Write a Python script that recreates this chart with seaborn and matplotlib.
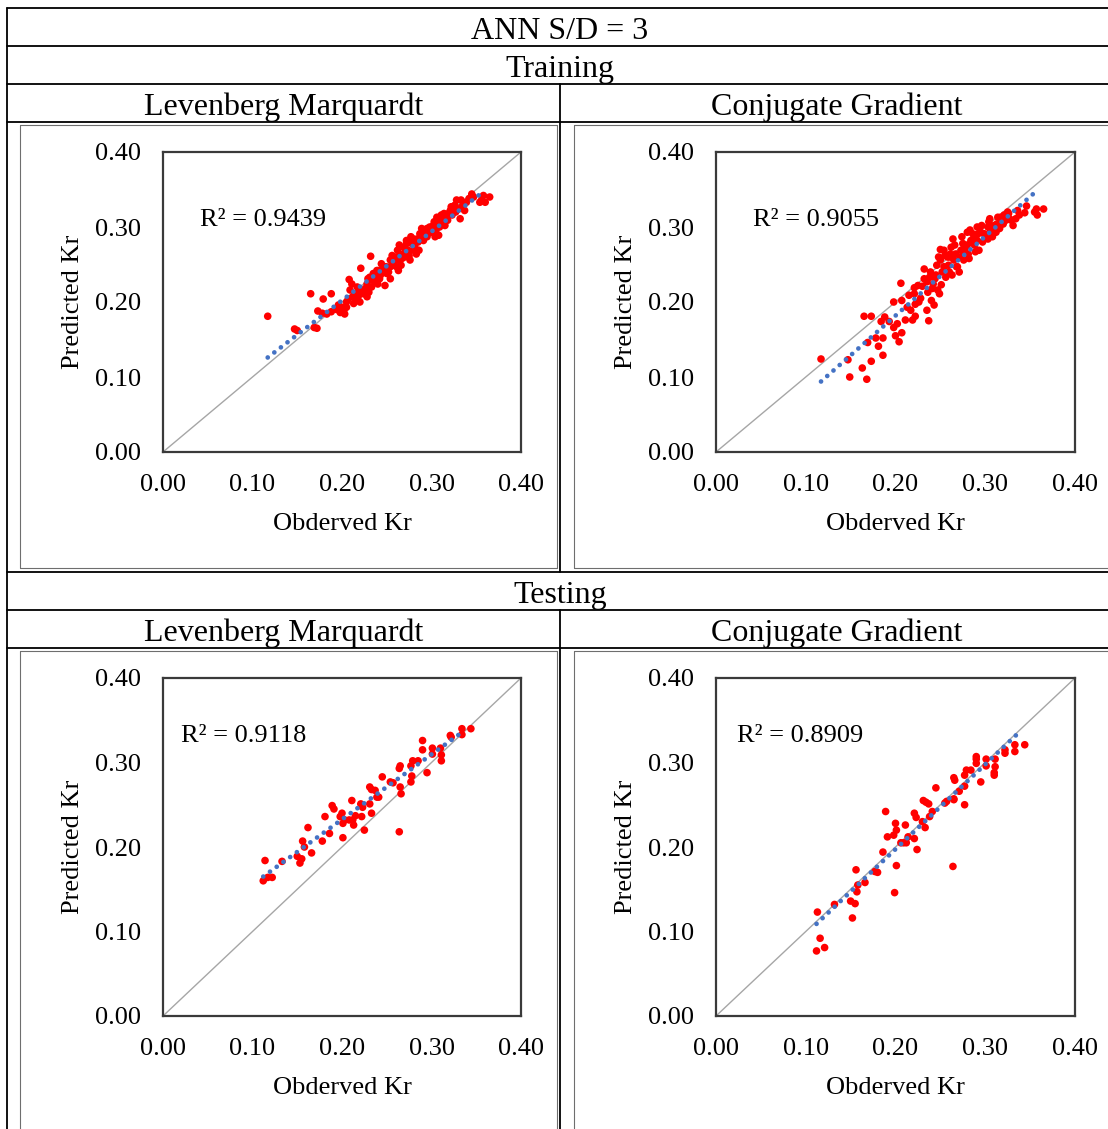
import numpy as np
import pandas as pd
import matplotlib
matplotlib.use("Agg")
import matplotlib.pyplot as plt
from matplotlib.lines import Line2D
from matplotlib.ticker import FormatStrFormatter
import seaborn as sns

sns.set_theme(style="white")
plt.rcParams["font.family"] = ["Liberation Serif", "DejaVu Serif"]
plt.rcParams["text.color"] = "black"
plt.rcParams["axes.labelcolor"] = "black"
plt.rcParams["xtick.color"] = "black"
plt.rcParams["ytick.color"] = "black"

# ---------------- data ----------------
# Training, Levenberg Marquardt
lm_train_obs = [0.117, 0.147, 0.150, 0.169, 0.172, 0.165, 0.179, 0.188, 0.173, 0.178,
                0.183, 0.188, 0.194, 0.198, 0.203, 0.200, 0.205, 0.208, 0.211, 0.209,
                0.215, 0.216, 0.220, 0.218, 0.224, 0.213, 0.221, 0.228, 0.231, 0.233,
                0.235, 0.237, 0.239, 0.232, 0.242, 0.248, 0.244, 0.250, 0.254, 0.257,
                0.259, 0.263, 0.262, 0.265, 0.269, 0.270, 0.272, 0.274, 0.276, 0.278,
                0.280, 0.282, 0.283, 0.285, 0.287, 0.289, 0.291, 0.293, 0.295, 0.298,
                0.300, 0.302, 0.304, 0.306, 0.308, 0.309, 0.311, 0.313, 0.315, 0.317,
                0.321, 0.323, 0.326, 0.328, 0.330, 0.332, 0.334, 0.336, 0.339, 0.345,
                0.347, 0.354, 0.356, 0.358, 0.360, 0.365, 0.228, 0.220, 0.205, 0.241,
                0.254, 0.263, 0.266, 0.280, 0.295, 0.308, 0.319, 0.254, 0.272, 0.229,
                0.196, 0.202, 0.207, 0.212, 0.217, 0.222, 0.226, 0.230, 0.234, 0.238,
                0.240, 0.243, 0.246, 0.249, 0.252, 0.256, 0.258, 0.261, 0.264, 0.267,
                0.271, 0.275, 0.277, 0.281, 0.284, 0.286, 0.288, 0.292, 0.296, 0.299,
                0.303, 0.305, 0.310, 0.314, 0.318, 0.322, 0.327, 0.333, 0.337, 0.342]
lm_train_pred = [0.181, 0.164, 0.162, 0.166, 0.165, 0.211, 0.204, 0.211, 0.188, 0.185,
                 0.184, 0.187, 0.190, 0.186, 0.184, 0.193, 0.200, 0.230, 0.224, 0.216,
                 0.211, 0.204, 0.216, 0.207, 0.211, 0.198, 0.245, 0.224, 0.233, 0.220,
                 0.238, 0.227, 0.242, 0.261, 0.231, 0.222, 0.251, 0.238, 0.256, 0.249,
                 0.260, 0.242, 0.269, 0.264, 0.273, 0.260, 0.282, 0.269, 0.256, 0.278,
                 0.284, 0.271, 0.264, 0.280, 0.291, 0.298, 0.282, 0.293, 0.287, 0.300,
                 0.293, 0.302, 0.287, 0.313, 0.307, 0.300, 0.316, 0.307, 0.302, 0.313,
                 0.322, 0.316, 0.329, 0.336, 0.324, 0.311, 0.327, 0.331, 0.333, 0.344,
                 0.340, 0.333, 0.336, 0.342, 0.333, 0.340, 0.207, 0.200, 0.193, 0.242,
                 0.231, 0.256, 0.249, 0.269, 0.298, 0.289, 0.318, 0.247, 0.278, 0.231,
                 0.196, 0.189, 0.204, 0.207, 0.220, 0.213, 0.218, 0.213, 0.229, 0.233,
                 0.224, 0.236, 0.244, 0.247, 0.240, 0.262, 0.253, 0.247, 0.276, 0.258,
                 0.267, 0.262, 0.287, 0.276, 0.284, 0.269, 0.287, 0.296, 0.291, 0.296,
                 0.307, 0.296, 0.311, 0.318, 0.309, 0.327, 0.320, 0.336, 0.322, 0.338]

# Training, Conjugate Gradient
cg_train_obs = [0.117, 0.149, 0.147, 0.163, 0.168, 0.173, 0.165, 0.173, 0.169, 0.178,
                0.181, 0.186, 0.186, 0.184, 0.188, 0.193, 0.198, 0.202, 0.200, 0.204,
                0.207, 0.198, 0.206, 0.207, 0.211, 0.213, 0.217, 0.219, 0.221, 0.221,
                0.222, 0.226, 0.222, 0.237, 0.235, 0.240, 0.243, 0.230, 0.232, 0.232,
                0.235, 0.238, 0.241, 0.244, 0.247, 0.249, 0.251, 0.246, 0.250, 0.250,
                0.254, 0.256, 0.258, 0.260, 0.262, 0.263, 0.265, 0.267, 0.264, 0.269,
                0.271, 0.273, 0.275, 0.276, 0.278, 0.281, 0.282, 0.284, 0.286, 0.288,
                0.290, 0.291, 0.293, 0.295, 0.297, 0.299, 0.303, 0.304, 0.306, 0.308,
                0.310, 0.312, 0.314, 0.316, 0.318, 0.321, 0.323, 0.325, 0.327, 0.331,
                0.334, 0.338, 0.344, 0.346, 0.355, 0.357, 0.358, 0.365, 0.260, 0.280,
                0.291, 0.303, 0.254, 0.215, 0.225, 0.228, 0.236, 0.239, 0.242, 0.245,
                0.248, 0.252, 0.255, 0.259, 0.261, 0.266, 0.268, 0.272, 0.274, 0.277,
                0.280, 0.283, 0.287, 0.289, 0.292, 0.296, 0.300, 0.305, 0.309, 0.313,
                0.317, 0.320, 0.326, 0.329, 0.336]
cg_train_pred = [0.124, 0.100, 0.123, 0.112, 0.097, 0.121, 0.181, 0.181, 0.146, 0.152,
                 0.141, 0.129, 0.152, 0.174, 0.180, 0.174, 0.166, 0.171, 0.155, 0.147,
                 0.159, 0.200, 0.225, 0.202, 0.176, 0.193, 0.189, 0.176, 0.219, 0.211,
                 0.197, 0.200, 0.181, 0.175, 0.189, 0.202, 0.196, 0.221, 0.231, 0.244,
                 0.227, 0.233, 0.218, 0.231, 0.216, 0.211, 0.223, 0.249, 0.256, 0.270,
                 0.247, 0.233, 0.260, 0.240, 0.273, 0.236, 0.256, 0.264, 0.284, 0.247,
                 0.240, 0.269, 0.278, 0.256, 0.273, 0.264, 0.258, 0.282, 0.291, 0.276,
                 0.289, 0.300, 0.269, 0.293, 0.280, 0.291, 0.284, 0.307, 0.296, 0.287,
                 0.302, 0.293, 0.313, 0.298, 0.304, 0.316, 0.309, 0.320, 0.311, 0.302,
                 0.311, 0.316, 0.319, 0.328, 0.320, 0.324, 0.316, 0.324, 0.260, 0.293,
                 0.282, 0.300, 0.269, 0.209, 0.222, 0.205, 0.213, 0.240, 0.224, 0.236,
                 0.260, 0.240, 0.262, 0.249, 0.264, 0.276, 0.247, 0.260, 0.287, 0.267,
                 0.276, 0.296, 0.284, 0.267, 0.291, 0.302, 0.287, 0.311, 0.293, 0.304,
                 0.313, 0.304, 0.318, 0.309, 0.322]

# Testing, Levenberg Marquardt
lm_test_obs = [0.112, 0.114, 0.117, 0.122, 0.133, 0.150, 0.153, 0.155, 0.156, 0.158,
               0.162, 0.166, 0.178, 0.181, 0.186, 0.189, 0.191, 0.198, 0.200, 0.201,
               0.201, 0.203, 0.208, 0.211, 0.212, 0.213, 0.215, 0.221, 0.222, 0.223,
               0.225, 0.231, 0.233, 0.231, 0.233, 0.237, 0.239, 0.241, 0.245, 0.254,
               0.257, 0.264, 0.265, 0.265, 0.266, 0.264, 0.277, 0.279, 0.278, 0.277,
               0.285, 0.290, 0.290, 0.295, 0.301, 0.301, 0.310, 0.311, 0.311, 0.321,
               0.322, 0.334, 0.344, 0.334]
lm_test_pred = [0.160, 0.184, 0.164, 0.164, 0.183, 0.189, 0.181, 0.186, 0.207, 0.200,
                0.223, 0.193, 0.207, 0.236, 0.216, 0.249, 0.245, 0.236, 0.240, 0.228,
                0.211, 0.232, 0.232, 0.255, 0.232, 0.226, 0.237, 0.251, 0.236, 0.247,
                0.220, 0.251, 0.240, 0.271, 0.268, 0.267, 0.259, 0.259, 0.283, 0.277,
                0.276, 0.293, 0.296, 0.271, 0.263, 0.218, 0.296, 0.302, 0.284, 0.277,
                0.302, 0.326, 0.315, 0.288, 0.317, 0.310, 0.317, 0.309, 0.302, 0.332,
                0.330, 0.340, 0.340, 0.333]

# Testing, Conjugate Gradient
cg_test_obs = [0.112, 0.116, 0.121, 0.113, 0.132, 0.150, 0.152, 0.155, 0.157, 0.158,
               0.156, 0.166, 0.177, 0.180, 0.186, 0.191, 0.189, 0.198, 0.199, 0.201,
               0.201, 0.200, 0.206, 0.209, 0.212, 0.214, 0.211, 0.221, 0.221, 0.223,
               0.224, 0.230, 0.233, 0.231, 0.234, 0.237, 0.238, 0.241, 0.245, 0.255,
               0.257, 0.264, 0.265, 0.265, 0.265, 0.266, 0.271, 0.277, 0.277, 0.277,
               0.279, 0.284, 0.290, 0.290, 0.290, 0.295, 0.301, 0.301, 0.311, 0.311,
               0.310, 0.310, 0.322, 0.322, 0.333, 0.333, 0.344]
cg_test_pred = [0.077, 0.092, 0.081, 0.123, 0.132, 0.136, 0.116, 0.133, 0.147, 0.155,
                0.173, 0.158, 0.171, 0.170, 0.194, 0.212, 0.242, 0.214, 0.146, 0.178,
                0.220, 0.228, 0.205, 0.205, 0.205, 0.212, 0.226, 0.210, 0.240, 0.235,
                0.197, 0.230, 0.223, 0.255, 0.253, 0.251, 0.236, 0.242, 0.270, 0.252,
                0.254, 0.177, 0.256, 0.257, 0.282, 0.279, 0.266, 0.250, 0.272, 0.285,
                0.291, 0.291, 0.307, 0.299, 0.304, 0.277, 0.304, 0.296, 0.304, 0.295,
                0.288, 0.285, 0.315, 0.311, 0.321, 0.313, 0.321]

# Linear trendline ends for each panel
lm_train_trend_x, lm_train_trend_y = [0.117, 0.359], [0.126, 0.348]
cg_train_trend_x, cg_train_trend_y = [0.117, 0.359], [0.094, 0.350]
lm_test_trend_x, lm_test_trend_y = [0.112, 0.337], [0.165, 0.338]
cg_test_trend_x, cg_test_trend_y = [0.112, 0.340], [0.109, 0.338]

r2_labels = ["R\u00b2 = 0.9439", "R\u00b2 = 0.9055", "R\u00b2 = 0.9118", "R\u00b2 = 0.8909"]
axis_ticks = [0.00, 0.10, 0.20, 0.30, 0.40]

# ---------------- layout helpers (pixel based) ----------------
W, H = 1108, 1129
fig = plt.figure(figsize=(W / 100, H / 100), dpi=100)
fig.patch.set_facecolor("white")


def fx(px):
    return px / W


def fy(py):
    return 1 - py / H


def hline(y, x0, x1, color="black", lw=1.3):
    fig.add_artist(Line2D([fx(x0), fx(x1)], [fy(y), fy(y)], color=color, lw=lw,
                          transform=fig.transFigure))


def vline(x, y0, y1, color="black", lw=1.3):
    fig.add_artist(Line2D([fx(x), fx(x)], [fy(y0), fy(y1)], color=color, lw=lw,
                          transform=fig.transFigure))


# table grid
for y in (8, 46, 84, 122, 572, 610, 648):
    hline(y, 7, W + 5)
vline(7, 8, H + 5)
vline(560, 84, 572)
vline(560, 610, H + 5)

# chart frames inside the table cells
frame_c = "#6e6e6e"
for top, bot in ((125, 568), (651, H + 5)):
    hline(top, 20, 557, color=frame_c, lw=0.8)
    hline(top, 574, W + 5, color=frame_c, lw=0.8)
    if bot < H:
        hline(bot, 20, 557, color=frame_c, lw=0.8)
        hline(bot, 574, W + 5, color=frame_c, lw=0.8)
    vline(20, top, bot, color=frame_c, lw=0.8)
    vline(557, top, bot, color=frame_c, lw=0.8)
    vline(574, top, bot, color=frame_c, lw=0.8)

# header texts
head_fs = 23
fig.text(fx(560), fy(31.5), "ANN S/D = 3", ha="center", va="center", fontsize=head_fs)
fig.text(fx(560), fy(69.5), "Training", ha="center", va="center", fontsize=head_fs)
fig.text(fx(560), fy(595.5), "Testing", ha="center", va="center", fontsize=head_fs)
for yc in (107.5, 633.5):
    fig.text(fx(283.5), fy(yc), "Levenberg Marquardt", ha="center", va="center", fontsize=head_fs)
    fig.text(fx(836.5), fy(yc), "Conjugate Gradient", ha="center", va="center", fontsize=head_fs)

# ---------------- scatter panels ----------------
# (left, right, top, bottom) in pixels, data, trendline, R² label and its position,
# x-label centre row, y-label centre column
panels = [
    (163, 521, 152, 452, lm_train_obs, lm_train_pred, lm_train_trend_x, lm_train_trend_y,
     r2_labels[0], (200, 220), 524, 73),
    (716, 1075, 152, 452, cg_train_obs, cg_train_pred, cg_train_trend_x, cg_train_trend_y,
     r2_labels[1], (753, 220), 524, 626),
    (163, 521, 678, 1016, lm_test_obs, lm_test_pred, lm_test_trend_x, lm_test_trend_y,
     r2_labels[2], (181, 736), 1088, 73),
    (716, 1075, 678, 1016, cg_test_obs, cg_test_pred, cg_test_trend_x, cg_test_trend_y,
     r2_labels[3], (737, 736), 1088, 626),
]

fs = 19
for (l, r, t, b, obs, pred, tx, ty, r2, (rx, ry), xl_y, yl_x) in panels:
    ax = fig.add_axes([fx(l), fy(b), fx(r) - fx(l), fy(t) - fy(b)])
    df = pd.DataFrame({"Observed": obs, "Predicted": pred})
    ax.axline((0, 0), slope=1, color="#a6a6a6", lw=1.0, zorder=1)
    sns.scatterplot(data=df, x="Observed", y="Predicted", ax=ax, color="#ff0000",
                    s=30, edgecolor="none", linewidth=0, zorder=2)
    ax.plot(tx, ty, color="#4472c4", lw=3.4, linestyle=(0, (0.01, 1.75)),
            dash_capstyle="round", zorder=3)
    ax.set_xlim(0, 0.4)
    ax.set_ylim(0, 0.4)
    ax.set_xticks(axis_ticks)
    ax.set_yticks(axis_ticks)
    ax.xaxis.set_major_formatter(FormatStrFormatter("%.2f"))
    ax.yaxis.set_major_formatter(FormatStrFormatter("%.2f"))
    ax.tick_params(axis="both", length=0, labelsize=fs, colors="black")
    ax.tick_params(axis="x", pad=16)
    ax.tick_params(axis="y", pad=15.5)
    ax.grid(False)
    for sp in ax.spines.values():
        sp.set_color("#3a3a3a")
        sp.set_linewidth(1.6)
    ax.set_xlabel("Obderved Kr", fontsize=fs, va="center")
    ax.set_ylabel("Predicted Kr", fontsize=fs, va="center")
    ax.xaxis.set_label_coords(0.5, (b - xl_y) / (b - t))
    ax.yaxis.set_label_coords((yl_x - l) / (r - l), 0.5)
    ax.text((rx - l) / (r - l), (b - ry) / (b - t), r2, transform=ax.transAxes,
            ha="left", va="center", fontsize=fs)

fig.savefig("out.png", dpi=100, facecolor="white")
